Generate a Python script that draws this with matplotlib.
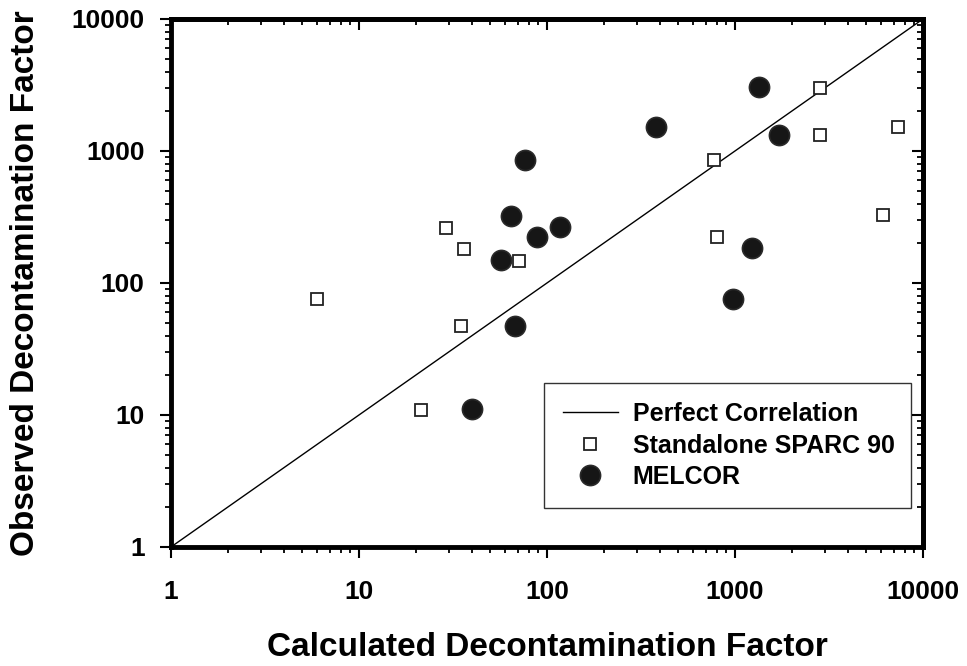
import matplotlib.pyplot as plt
import numpy as np

# === DATA ===
sparc_calc = [6, 29, 36, 71, 35, 21.5, 770, 800, 2820, 2840, 7400, 6150]
sparc_obs = [76, 262, 182, 146, 47.5, 11, 855, 223, 3000, 1320, 1530, 326]

melcor_calc = [76, 64, 89, 117, 57, 68, 40, 380, 1350, 1710, 1230, 975]
melcor_obs = [855, 323, 223, 264, 149, 47.5, 11.1, 1530, 3070, 1330, 184, 76]

perfect = [1, 10000]
tick_vals = [1, 10, 100, 1000, 10000]
tick_labels = ["1", "10", "100", "1000", "10000"]

plt.rcParams['font.family'] = ['Liberation Sans', 'DejaVu Sans']
plt.rcParams['font.weight'] = 'bold'

fig = plt.figure(figsize=(9.67, 6.66), dpi=100)
ax = fig.add_axes([0.1768, 0.1787, 0.7777, 0.7928])

ax.plot(perfect, perfect, color='black', lw=1.0, label='Perfect Correlation', zorder=2)
ax.plot(sparc_calc, sparc_obs, ls='none', marker='s', ms=9, mfc='white',
        mec='#222222', mew=1.3, label='Standalone SPARC 90', zorder=3)
ax.plot(melcor_calc, melcor_obs, ls='none', marker='o', ms=14.5, mfc='#161616',
        mec='#2a2a2a', mew=1.2, label='MELCOR', zorder=4)

ax.set_xscale('log')
ax.set_yscale('log')
ax.set_xlim(1, 10000)
ax.set_ylim(1, 10000)

ax.set_xticks(tick_vals)
ax.set_xticklabels(tick_labels)
ax.set_yticks(tick_vals)
ax.set_yticklabels(tick_labels)

for sp in ax.spines.values():
    sp.set_linewidth(3.5)

ax.tick_params(which='major', direction='out', length=8, width=1.5, labelsize=19)
ax.tick_params(axis='x', which='major', pad=16)
ax.tick_params(axis='y', which='major', pad=11)
ax.tick_params(which='minor', direction='out', length=4, width=1.3)

# inward ticks on top and right
topax = ax.secondary_xaxis('top')
rightax = ax.secondary_yaxis('right')
topax.set_xticks(tick_vals)
rightax.set_yticks(tick_vals)
for sec in (topax, rightax):
    sec.tick_params(which='major', direction='in', length=8, width=1.5)
    sec.tick_params(which='minor', direction='in', length=4, width=1.3)
    for sp in sec.spines.values():
        sp.set_linewidth(3.5)
topax.tick_params(labeltop=False)
rightax.tick_params(labelright=False)

ax.set_xlabel('Calculated Decontamination Factor', fontsize=24, fontweight='bold', labelpad=20)
ax.set_ylabel('Observed Decontamination Factor', fontsize=24, fontweight='bold', labelpad=22)

leg = ax.legend(loc='lower left', bbox_to_anchor=(0.496, 0.074, 0.488, 0.235), mode='expand',
                fontsize=18, frameon=True, fancybox=False, edgecolor='black',
                handlelength=2.2, handletextpad=0.6, borderpad=0.75, labelspacing=0.3,
                borderaxespad=0)
leg.get_frame().set_linewidth(1.0)
for t in leg.get_texts():
    t.set_fontweight('bold')

fig.savefig('out.png', dpi=100)
